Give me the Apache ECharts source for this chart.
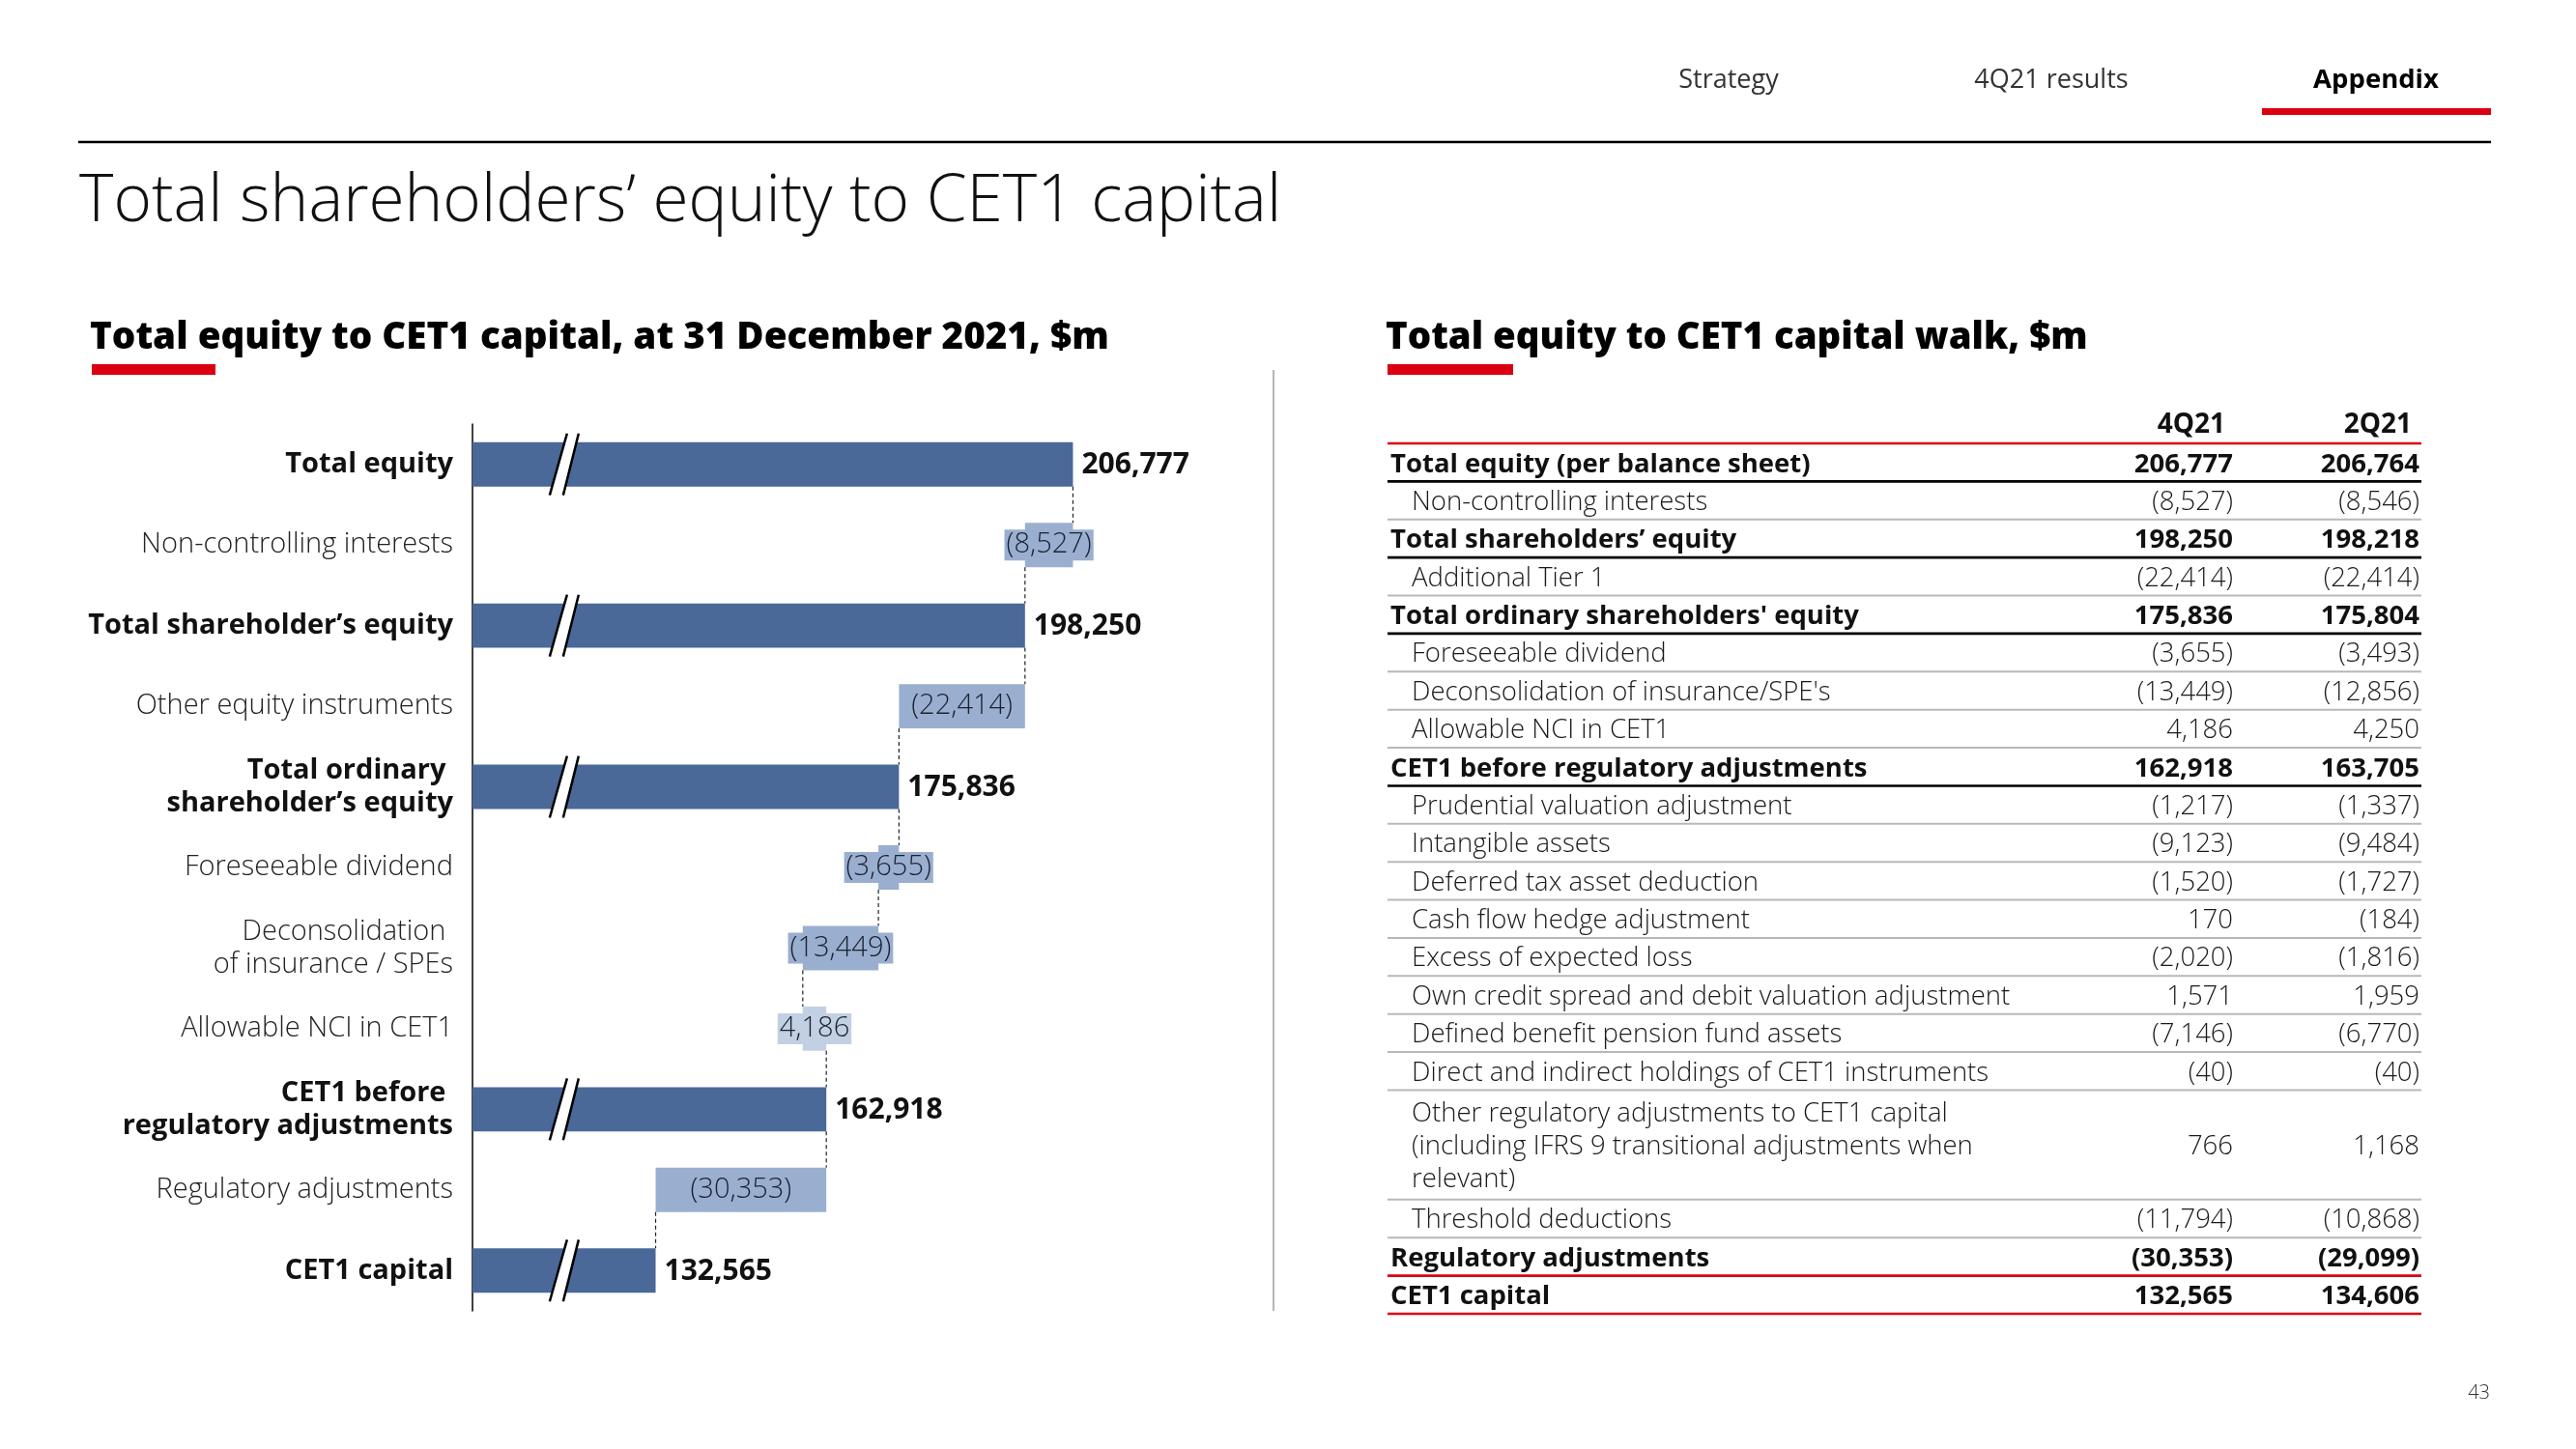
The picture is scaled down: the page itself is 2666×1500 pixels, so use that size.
<!DOCTYPE html>
<html><head><meta charset="utf-8">
<script src="https://cdn.jsdelivr.net/npm/echarts@6/dist/echarts.min.js"></script>
<style>html,body{margin:0;padding:0;background:#fff}#chart{width:2666px;height:1500px}</style>
</head><body><div id="chart"></div>
<script>
// ---------- data ----------
const navItems = ['Strategy', '4Q21 results', 'Appendix'];
const slideTitle = 'Total shareholders’ equity to CET1 capital';
const leftSubtitle = 'Total equity to CET1 capital, at 31 December 2021, $m';
const rightSubtitle = 'Total equity to CET1 capital walk, $m';
const pageNumber = '43';

const walkCategories = [
  'Total equity',
  'Non-controlling interests',
  'Total shareholder’s equity',
  'Other equity instruments',
  'Total ordinary \nshareholder’s equity',
  'Foreseeable dividend',
  'Deconsolidation \nof insurance / SPEs',
  'Allowable NCI in CET1',
  'CET1 before \nregulatory adjustments',
  'Regulatory adjustments',
  'CET1 capital'
];
const walkValues = [206777, -8527, 198250, -22414, 175836, -3655, -13449, 4186, 162918, -30353, 132565];
const walkIsTotal = [true, false, true, false, true, false, false, false, true, false, true];

const tableColumns = ['4Q21', '2Q21'];
const tableLabels = [
  'Total equity (per balance sheet)',
  'Non-controlling interests',
  'Total shareholders’ equity',
  'Additional Tier 1',
  "Total ordinary shareholders' equity",
  'Foreseeable dividend',
  "Deconsolidation of insurance/SPE's",
  'Allowable NCI in CET1',
  'CET1 before regulatory adjustments',
  'Prudential valuation adjustment',
  'Intangible assets',
  'Deferred tax asset deduction',
  'Cash flow hedge adjustment',
  'Excess of expected loss',
  'Own credit spread and debit valuation adjustment',
  'Defined benefit pension fund assets',
  'Direct and indirect holdings of CET1 instruments',
  'Other regulatory adjustments to CET1 capital\n(including IFRS 9 transitional adjustments when\nrelevant)',
  'Threshold deductions',
  'Regulatory adjustments',
  'CET1 capital'
];
const table4Q21 = [206777, -8527, 198250, -22414, 175836, -3655, -13449, 4186, 162918, -1217, -9123, -1520, 170, -2020, 1571, -7146, -40, 766, -11794, -30353, 132565];
const table2Q21 = [206764, -8546, 198218, -22414, 175804, -3493, -12856, 4250, 163705, -1337, -9484, -1727, -184, -1816, 1959, -6770, -40, 1168, -10868, -29099, 134606];
const tableIsSubtotal = [true, false, true, false, true, false, false, false, true, false, false, false, false, false, false, false, false, false, false, true, true];

// ---------- helpers ----------
const FONT = '"Open Sans", "Noto Sans", sans-serif';
const RED = '#DB0011';
function fmt(v) {
  const s = Math.abs(v).toLocaleString('en-US');
  return v < 0 ? '(' + s + ')' : s;
}

// waterfall geometry (values only; pixels come from the axes)
const AXIS_MIN = 100000, AXIS_MAX = 250000, BREAK_AT = 116300;
let running = 0;
const walkData = walkValues.map((v, i) => {
  let lo, hi, end, kind;
  if (walkIsTotal[i]) { lo = AXIS_MIN; hi = v; end = v; kind = 0; }
  else { end = running + v; lo = Math.min(running, end); hi = Math.max(running, end); kind = v < 0 ? 1 : 2; }
  running = end;
  return [i, lo, hi, kind, v, end];
});
const BAR_COLORS = ['#4A6898', '#9AAFD0', '#C3D0E4'];

function renderWalk(params, api) {
  const i = api.value(0), lo = api.value(1), hi = api.value(2), kind = api.value(3), v = api.value(4), end = api.value(5);
  const a = api.coord([lo, i]), b = api.coord([hi, i]);
  const band = api.size([0, 1])[1];
  const h = band * 0.55;
  const yc = a[1];
  const ch = [];
  ch.push({ type: 'rect', shape: { x: a[0], y: yc - h / 2, width: b[0] - a[0], height: h }, style: { fill: BAR_COLORS[kind] } });
  if (kind === 0) {
    const c = api.coord([BREAK_AT, i])[0];
    const t = yc - h / 2 - 9, bt = yc + h / 2 + 9;
    ch.push({ type: 'polygon', shape: { points: [[c + 3, t], [c + 15, t], [c - 1, bt], [c - 15, bt]] }, style: { fill: '#fff' } });
    ch.push({ type: 'line', shape: { x1: c - 15, y1: bt, x2: c + 3, y2: t }, style: { stroke: '#000', lineWidth: 2.5 } });
    ch.push({ type: 'line', shape: { x1: c - 1, y1: bt, x2: c + 15, y2: t }, style: { stroke: '#000', lineWidth: 2.5 } });
    ch.push({ type: 'text', style: { text: fmt(v), x: b[0] + 9, y: yc + 1, align: 'left', textAlign: 'left', verticalAlign: 'middle', textVerticalAlign: 'middle', fill: '#111', font: '700 30px ' + FONT } });
  } else {
    ch.push({ type: 'text', style: { text: fmt(v), x: (a[0] + b[0]) / 2, y: yc, align: 'center', textAlign: 'center', verticalAlign: 'middle', textVerticalAlign: 'middle', fill: '#1a2230', font: '300 29px ' + FONT, backgroundColor: BAR_COLORS[kind], padding: [2, 2, 1, 2] } });
  }
  if (i < walkValues.length - 1) {
    const x = api.coord([end, i])[0];
    ch.push({ type: 'line', shape: { x1: x, y1: yc + h / 2, x2: x, y2: yc + band - h / 2 }, style: { stroke: '#222', lineWidth: 1.2, lineDash: [4, 3] } });
  }
  return { type: 'group', children: ch };
}

// table geometry in row units
const HEADER_H = 39, ROW_H = 39.4, EXTRA_LINE_H = 37;
const tableRows = [];
let yy = HEADER_H;
tableLabels.forEach((lab, i) => {
  const lines = lab.split('\n').length;
  const hgt = ROW_H + (lines - 1) * EXTRA_LINE_H;
  tableRows.push([i, yy, yy + hgt]);
  yy += hgt;
});
const TABLE_TOTAL = yy;
const TABLE_W = 1070, COL_X = [875, 1068];

function renderTable(params, api) {
  const i = api.value(0), top = api.value(1), bot = api.value(2);
  const p0 = api.coord([0, top]), p1 = api.coord([TABLE_W, bot]);
  const x0 = p0[0], x1 = p1[0], yT = p0[1], yB = p1[1];
  const mid = (yT + yB) / 2 + 2;
  const sub = tableIsSubtotal[i];
  const ch = [];
  const font = (sub ? '700 ' : '300 ') + '27.5px ' + FONT;
  const col = sub ? '#111' : '#1a1a1a';
  ch.push({ type: 'text', style: { text: tableLabels[i], x: x0 + (sub ? 3 : 25), y: mid, align: 'left', textAlign: 'left', verticalAlign: 'middle', textVerticalAlign: 'middle', fill: col, font: font, lineHeight: 34 } });
  [table4Q21, table2Q21].forEach((arr, k) => {
    ch.push({ type: 'text', style: { text: fmt(arr[i]), x: api.coord([COL_X[k], 0])[0], y: mid, align: 'right', textAlign: 'right', verticalAlign: 'middle', textVerticalAlign: 'middle', fill: col, font: font } });
  });
  let stroke = '#b8b8b8', lw = 2;
  if (sub) { stroke = i >= tableLabels.length - 2 ? RED : '#000'; lw = 2.6; }
  ch.push({ type: 'line', shape: { x1: x0, y1: yB, x2: x1, y2: yB }, style: { stroke: stroke, lineWidth: lw } });
  if (i === 0) {
    const hT = api.coord([0, 0])[1];
    const hm = (hT + yT) / 2 + 1;
    tableColumns.forEach((c, k) => {
      ch.push({ type: 'text', style: { text: c, x: api.coord([COL_X[k] - 8, 0])[0], y: hm, align: 'right', textAlign: 'right', verticalAlign: 'middle', textVerticalAlign: 'middle', fill: '#111', font: '700 28px ' + FONT } });
    });
    ch.push({ type: 'line', shape: { x1: x0, y1: yT, x2: x1, y2: yT }, style: { stroke: RED, lineWidth: 2.4 } });
  }
  return { type: 'group', children: ch };
}

// ---------- chart ----------
const chart = echarts.init(document.getElementById('chart'), null, { renderer: 'canvas', width: 2666, height: 1500 });

const navX = [1789, 2123, 2459];
const graphics = [
  { type: 'line', shape: { x1: 81, y1: 147, x2: 2578, y2: 147 }, style: { stroke: '#000', lineWidth: 2.5 } },
  { type: 'rect', shape: { x: 2341, y: 112, width: 237, height: 7 }, style: { fill: RED } },
  { type: 'text', style: { text: slideTitle, x: 82, y: 210, textVerticalAlign: 'middle', verticalAlign: 'middle', fill: '#111', font: '300 67.5px ' + FONT } },
  { type: 'text', style: { text: leftSubtitle, x: 93, y: 350, textVerticalAlign: 'middle', verticalAlign: 'middle', fill: '#000', font: '800 38.6px ' + FONT } },
  { type: 'rect', shape: { x: 95, y: 377, width: 128, height: 11 }, style: { fill: RED } },
  { type: 'text', style: { text: rightSubtitle, x: 1434, y: 350, textVerticalAlign: 'middle', verticalAlign: 'middle', fill: '#000', font: '800 38.4px ' + FONT } },
  { type: 'rect', shape: { x: 1436, y: 377, width: 130, height: 11 }, style: { fill: RED } },
  { type: 'line', shape: { x1: 1318, y1: 383, x2: 1318, y2: 1357 }, style: { stroke: '#b5b5b5', lineWidth: 2 } },
  { type: 'text', style: { text: pageNumber, x: 2577, y: 1442, textAlign: 'right', align: 'right', textVerticalAlign: 'middle', verticalAlign: 'middle', fill: '#333', font: '300 20px ' + FONT } }
];
navItems.forEach((n, k) => {
  graphics.push({ type: 'text', style: { text: n, x: navX[k], y: 83, textAlign: 'center', align: 'center', textVerticalAlign: 'middle', verticalAlign: 'middle', fill: k === 2 ? '#000' : '#333', font: (k === 2 ? '700 27.5px ' : '400 27px ') + FONT } });
});

chart.setOption({
  backgroundColor: '#fff',
  animation: false,
  textStyle: { fontFamily: FONT },
  graphic: { elements: graphics },
  grid: [
    { left: 489, top: 439, width: 873, height: 918 },
    { left: 1436, top: 420, width: TABLE_W, height: 940 }
  ],
  xAxis: [
    { type: 'value', gridIndex: 0, min: AXIS_MIN, max: AXIS_MAX, show: false },
    { type: 'value', gridIndex: 1, min: 0, max: TABLE_W, show: false }
  ],
  yAxis: [
    {
      type: 'category', gridIndex: 0, data: walkCategories, inverse: true,
      axisLine: { show: true, lineStyle: { color: '#000', width: 1.5 } },
      axisTick: { show: false }, splitLine: { show: false },
      axisLabel: {
        margin: 20,
        formatter: (val, idx) => {
          const tag = walkIsTotal[idx] ? 'b' : 'r';
          return val.split('\n').map(s => '{' + tag + '|' + s + '}').join('\n');
        },
        rich: {
          b: { fontSize: 29, fontWeight: 700, color: '#111', lineHeight: 34, fontFamily: FONT },
          r: { fontSize: 29, fontWeight: 300, color: '#222', lineHeight: 34, fontFamily: FONT }
        }
      }
    },
    { type: 'value', gridIndex: 1, min: 0, max: TABLE_TOTAL, inverse: true, show: false }
  ],
  series: [
    { type: 'custom', name: 'walk', xAxisIndex: 0, yAxisIndex: 0, renderItem: renderWalk, data: walkData, encode: { x: [1, 2], y: 0 }, clip: false },
    { type: 'custom', name: 'table', xAxisIndex: 1, yAxisIndex: 1, renderItem: renderTable, data: tableRows, encode: { y: [1, 2] }, clip: false }
  ]
});
</script>
</body></html>
